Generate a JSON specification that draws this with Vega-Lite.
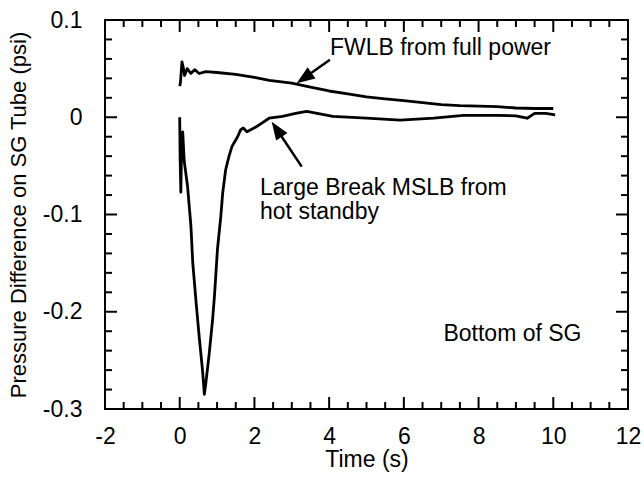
{
  "$schema": "https://vega.github.io/schema/vega-lite/v6.json",
  "width": 523,
  "height": 389,
  "autosize": "none",
  "padding": {"left": 105, "top": 20, "right": 16, "bottom": 69},
  "background": "white",
  "config": {
    "view": {"stroke": "black", "strokeWidth": 2},
    "font": "Liberation Sans",
    "axis": {
      "domain": false,
      "grid": false,
      "ticks": false,
      "labelColor": "black",
      "titleColor": "black",
      "labelFont": "Liberation Sans",
      "titleFont": "Liberation Sans",
      "labelFontSize": 23,
      "titleFontSize": 23,
      "titleFontWeight": "normal",
      "labelFlush": false,
      "labelOverlap": false
    }
  },
  "datasets": {
    "fwlb": [
      {"t": 0.0, "v": 0.032}, {"t": 0.02, "v": 0.036}, {"t": 0.06, "v": 0.057}, {"t": 0.1, "v": 0.05},
      {"t": 0.13, "v": 0.043}, {"t": 0.2, "v": 0.05}, {"t": 0.3, "v": 0.045}, {"t": 0.4, "v": 0.049},
      {"t": 0.52, "v": 0.045}, {"t": 0.7, "v": 0.047}, {"t": 1.0, "v": 0.046}, {"t": 1.5, "v": 0.044},
      {"t": 2.0, "v": 0.041}, {"t": 2.4, "v": 0.038}, {"t": 3.0, "v": 0.035}, {"t": 3.5, "v": 0.031},
      {"t": 4.0, "v": 0.027}, {"t": 4.5, "v": 0.024}, {"t": 5.0, "v": 0.021}, {"t": 5.5, "v": 0.019},
      {"t": 6.0, "v": 0.017}, {"t": 6.5, "v": 0.015}, {"t": 7.0, "v": 0.013}, {"t": 7.5, "v": 0.012},
      {"t": 8.0, "v": 0.0115}, {"t": 8.5, "v": 0.011}, {"t": 9.0, "v": 0.0095}, {"t": 9.5, "v": 0.009},
      {"t": 10.0, "v": 0.009}
    ],
    "mslb": [
      {"t": 0.0, "v": 0.0}, {"t": 0.01, "v": -0.04}, {"t": 0.03, "v": -0.077}, {"t": 0.05, "v": -0.03},
      {"t": 0.08, "v": -0.015}, {"t": 0.12, "v": -0.045}, {"t": 0.21, "v": -0.071}, {"t": 0.3, "v": -0.112},
      {"t": 0.35, "v": -0.15}, {"t": 0.44, "v": -0.191}, {"t": 0.52, "v": -0.225}, {"t": 0.61, "v": -0.26},
      {"t": 0.66, "v": -0.285}, {"t": 0.7, "v": -0.273}, {"t": 0.79, "v": -0.243}, {"t": 0.88, "v": -0.208},
      {"t": 0.93, "v": -0.184}, {"t": 0.97, "v": -0.16}, {"t": 1.01, "v": -0.136}, {"t": 1.1, "v": -0.102},
      {"t": 1.15, "v": -0.078}, {"t": 1.23, "v": -0.054}, {"t": 1.32, "v": -0.04}, {"t": 1.4, "v": -0.03},
      {"t": 1.55, "v": -0.02}, {"t": 1.63, "v": -0.013}, {"t": 1.7, "v": -0.011}, {"t": 1.8, "v": -0.015},
      {"t": 2.04, "v": -0.01}, {"t": 2.2, "v": -0.006}, {"t": 2.39, "v": -0.001}, {"t": 2.75, "v": 0.001},
      {"t": 3.1, "v": 0.004}, {"t": 3.4, "v": 0.006}, {"t": 4.1, "v": 0.001}, {"t": 5.0, "v": -0.001},
      {"t": 5.9, "v": -0.003}, {"t": 6.8, "v": -0.001}, {"t": 7.6, "v": 0.002}, {"t": 8.5, "v": 0.002},
      {"t": 9.0, "v": 0.0015}, {"t": 9.3, "v": -0.001}, {"t": 9.5, "v": 0.004}, {"t": 9.8, "v": 0.004},
      {"t": 10.05, "v": 0.0024}
    ],
    "notes": [
      {"label": "FWLB from full power", "t": 4.02, "v": 0.064},
      {"label": "Large Break MSLB from", "t": 2.15, "v": -0.08},
      {"label": "hot standby", "t": 2.15, "v": -0.1047},
      {"label": "Bottom of SG", "t": 7.06, "v": -0.2297}
    ],
    "arrows": [
      {"name": "FWLB", "t0": 4.02, "v0": 0.0591, "t1": 3.33, "v1": 0.0403},
      {"name": "MSLB", "t0": 3.266, "v0": -0.0508, "t1": 2.597, "v1": -0.0123}
    ],
    "xticks": [
      {"t": -1.5}, {"t": -1}, {"t": -0.5}, {"t": 0}, {"t": 0.5}, {"t": 1}, {"t": 1.5}, {"t": 2},
      {"t": 2.5}, {"t": 3}, {"t": 3.5}, {"t": 4}, {"t": 4.5}, {"t": 5}, {"t": 5.5}, {"t": 6},
      {"t": 6.5}, {"t": 7}, {"t": 7.5}, {"t": 8}, {"t": 8.5}, {"t": 9}, {"t": 9.5}, {"t": 10},
      {"t": 10.5}, {"t": 11}, {"t": 11.5}
    ],
    "yticks": [
      {"v": -0.28}, {"v": -0.26}, {"v": -0.24}, {"v": -0.22}, {"v": -0.2}, {"v": -0.18}, {"v": -0.16},
      {"v": -0.14}, {"v": -0.12}, {"v": -0.1}, {"v": -0.08}, {"v": -0.06}, {"v": -0.04}, {"v": -0.02},
      {"v": 0}, {"v": 0.02}, {"v": 0.04}, {"v": 0.06}, {"v": 0.08}
    ]
  },
  "layer": [
    {
      "data": {"name": "fwlb"},
      "mark": {"type": "line", "color": "black", "strokeWidth": 2.8, "strokeJoin": "round"},
      "encoding": {
        "x": {
          "field": "t", "type": "quantitative",
          "scale": {"domain": [-2, 12], "nice": false, "zero": false},
          "axis": {
            "orient": "bottom", "title": "Time (s)",
            "values": [-2, 0, 2, 4, 6, 8, 10, 12],
            "labelExpr": "toString(datum.value)",
            "labelPadding": 16,
            "titlePadding": 0
          }
        },
        "y": {
          "field": "v", "type": "quantitative",
          "scale": {"domain": [-0.3, 0.1], "nice": false, "zero": false},
          "axis": {
            "orient": "left", "title": "Pressure Difference on SG Tube (psi)",
            "values": [-0.3, -0.2, -0.1, 0, 0.1],
            "labelExpr": "toString(round(datum.value * 10) / 10)",
            "labelPadding": 23,
            "titleFontSize": 22,
            "titlePadding": 12
          }
        }
      }
    },
    {
      "data": {"name": "mslb"},
      "mark": {"type": "line", "color": "black", "strokeWidth": 2.8, "strokeJoin": "round"},
      "encoding": {
        "x": {"field": "t", "type": "quantitative", "axis": null},
        "y": {"field": "v", "type": "quantitative", "axis": null}
      }
    },
    {
      "data": {"name": "xticks"},
      "transform": [{"filter": "datum.t % 2 === 0"}],
      "mark": {"type": "rule", "color": "black", "strokeWidth": 2},
      "encoding": {
        "x": {"field": "t", "type": "quantitative", "axis": null},
        "y": {"datum": -0.3, "type": "quantitative", "axis": null},
        "y2": {"datum": -0.2877}
      }
    },
    {
      "data": {"name": "xticks"},
      "transform": [{"filter": "datum.t % 2 === 0"}],
      "mark": {"type": "rule", "color": "black", "strokeWidth": 2},
      "encoding": {
        "x": {"field": "t", "type": "quantitative", "axis": null},
        "y": {"datum": 0.1, "type": "quantitative", "axis": null},
        "y2": {"datum": 0.0877}
      }
    },
    {
      "data": {"name": "xticks"},
      "transform": [{"filter": "datum.t % 2 !== 0"}],
      "mark": {"type": "rule", "color": "black", "strokeWidth": 2},
      "encoding": {
        "x": {"field": "t", "type": "quantitative", "axis": null},
        "y": {"datum": -0.3, "type": "quantitative", "axis": null},
        "y2": {"datum": -0.2928}
      }
    },
    {
      "data": {"name": "xticks"},
      "transform": [{"filter": "datum.t % 2 !== 0"}],
      "mark": {"type": "rule", "color": "black", "strokeWidth": 2},
      "encoding": {
        "x": {"field": "t", "type": "quantitative", "axis": null},
        "y": {"datum": 0.1, "type": "quantitative", "axis": null},
        "y2": {"datum": 0.0928}
      }
    },
    {
      "data": {"name": "yticks"},
      "transform": [{"filter": "round(datum.v * 100) % 10 === 0"}],
      "mark": {"type": "rule", "color": "black", "strokeWidth": 2},
      "encoding": {
        "y": {"field": "v", "type": "quantitative", "axis": null},
        "x": {"datum": -2, "type": "quantitative", "axis": null},
        "x2": {"datum": -1.679}
      }
    },
    {
      "data": {"name": "yticks"},
      "transform": [{"filter": "round(datum.v * 100) % 10 === 0"}],
      "mark": {"type": "rule", "color": "black", "strokeWidth": 2},
      "encoding": {
        "y": {"field": "v", "type": "quantitative", "axis": null},
        "x": {"datum": 12, "type": "quantitative", "axis": null},
        "x2": {"datum": 11.679}
      }
    },
    {
      "data": {"name": "yticks"},
      "transform": [{"filter": "round(datum.v * 100) % 10 !== 0"}],
      "mark": {"type": "rule", "color": "black", "strokeWidth": 2},
      "encoding": {
        "y": {"field": "v", "type": "quantitative", "axis": null},
        "x": {"datum": -2, "type": "quantitative", "axis": null},
        "x2": {"datum": -1.813}
      }
    },
    {
      "data": {"name": "yticks"},
      "transform": [{"filter": "round(datum.v * 100) % 10 !== 0"}],
      "mark": {"type": "rule", "color": "black", "strokeWidth": 2},
      "encoding": {
        "y": {"field": "v", "type": "quantitative", "axis": null},
        "x": {"datum": 12, "type": "quantitative", "axis": null},
        "x2": {"datum": 11.813}
      }
    },
    {
      "data": {"name": "notes"},
      "mark": {"type": "text", "align": "left", "baseline": "alphabetic", "fontSize": 23, "font": "Liberation Sans", "color": "black"},
      "encoding": {
        "x": {"field": "t", "type": "quantitative", "axis": null},
        "y": {"field": "v", "type": "quantitative", "axis": null},
        "text": {"field": "label"}
      }
    },
    {
      "data": {"name": "arrows"},
      "mark": {"type": "rule", "color": "black", "strokeWidth": 2.5},
      "encoding": {
        "x": {"field": "t0", "type": "quantitative", "axis": null},
        "y": {"field": "v0", "type": "quantitative", "axis": null},
        "x2": {"field": "t1"},
        "y2": {"field": "v1"}
      }
    },
    {
      "data": {"name": "arrows"},
      "transform": [{"filter": "datum.name === 'FWLB'"}],
      "mark": {"type": "point", "shape": "M0,-1L0.75,1L-0.75,1Z", "filled": true, "color": "black", "opacity": 1, "size": 330, "angle": 235},
      "encoding": {
        "x": {"field": "t1", "type": "quantitative", "axis": null},
        "y": {"field": "v1", "type": "quantitative", "axis": null}
      }
    },
    {
      "data": {"name": "arrows"},
      "transform": [{"filter": "datum.name === 'MSLB'"}],
      "mark": {"type": "point", "shape": "M0,-1L0.75,1L-0.75,1Z", "filled": true, "color": "black", "opacity": 1, "size": 330, "angle": 326},
      "encoding": {
        "x": {"field": "t1", "type": "quantitative", "axis": null},
        "y": {"field": "v1", "type": "quantitative", "axis": null}
      }
    }
  ],
  "resolve": {"axis": {"x": "independent", "y": "independent"}}
}
